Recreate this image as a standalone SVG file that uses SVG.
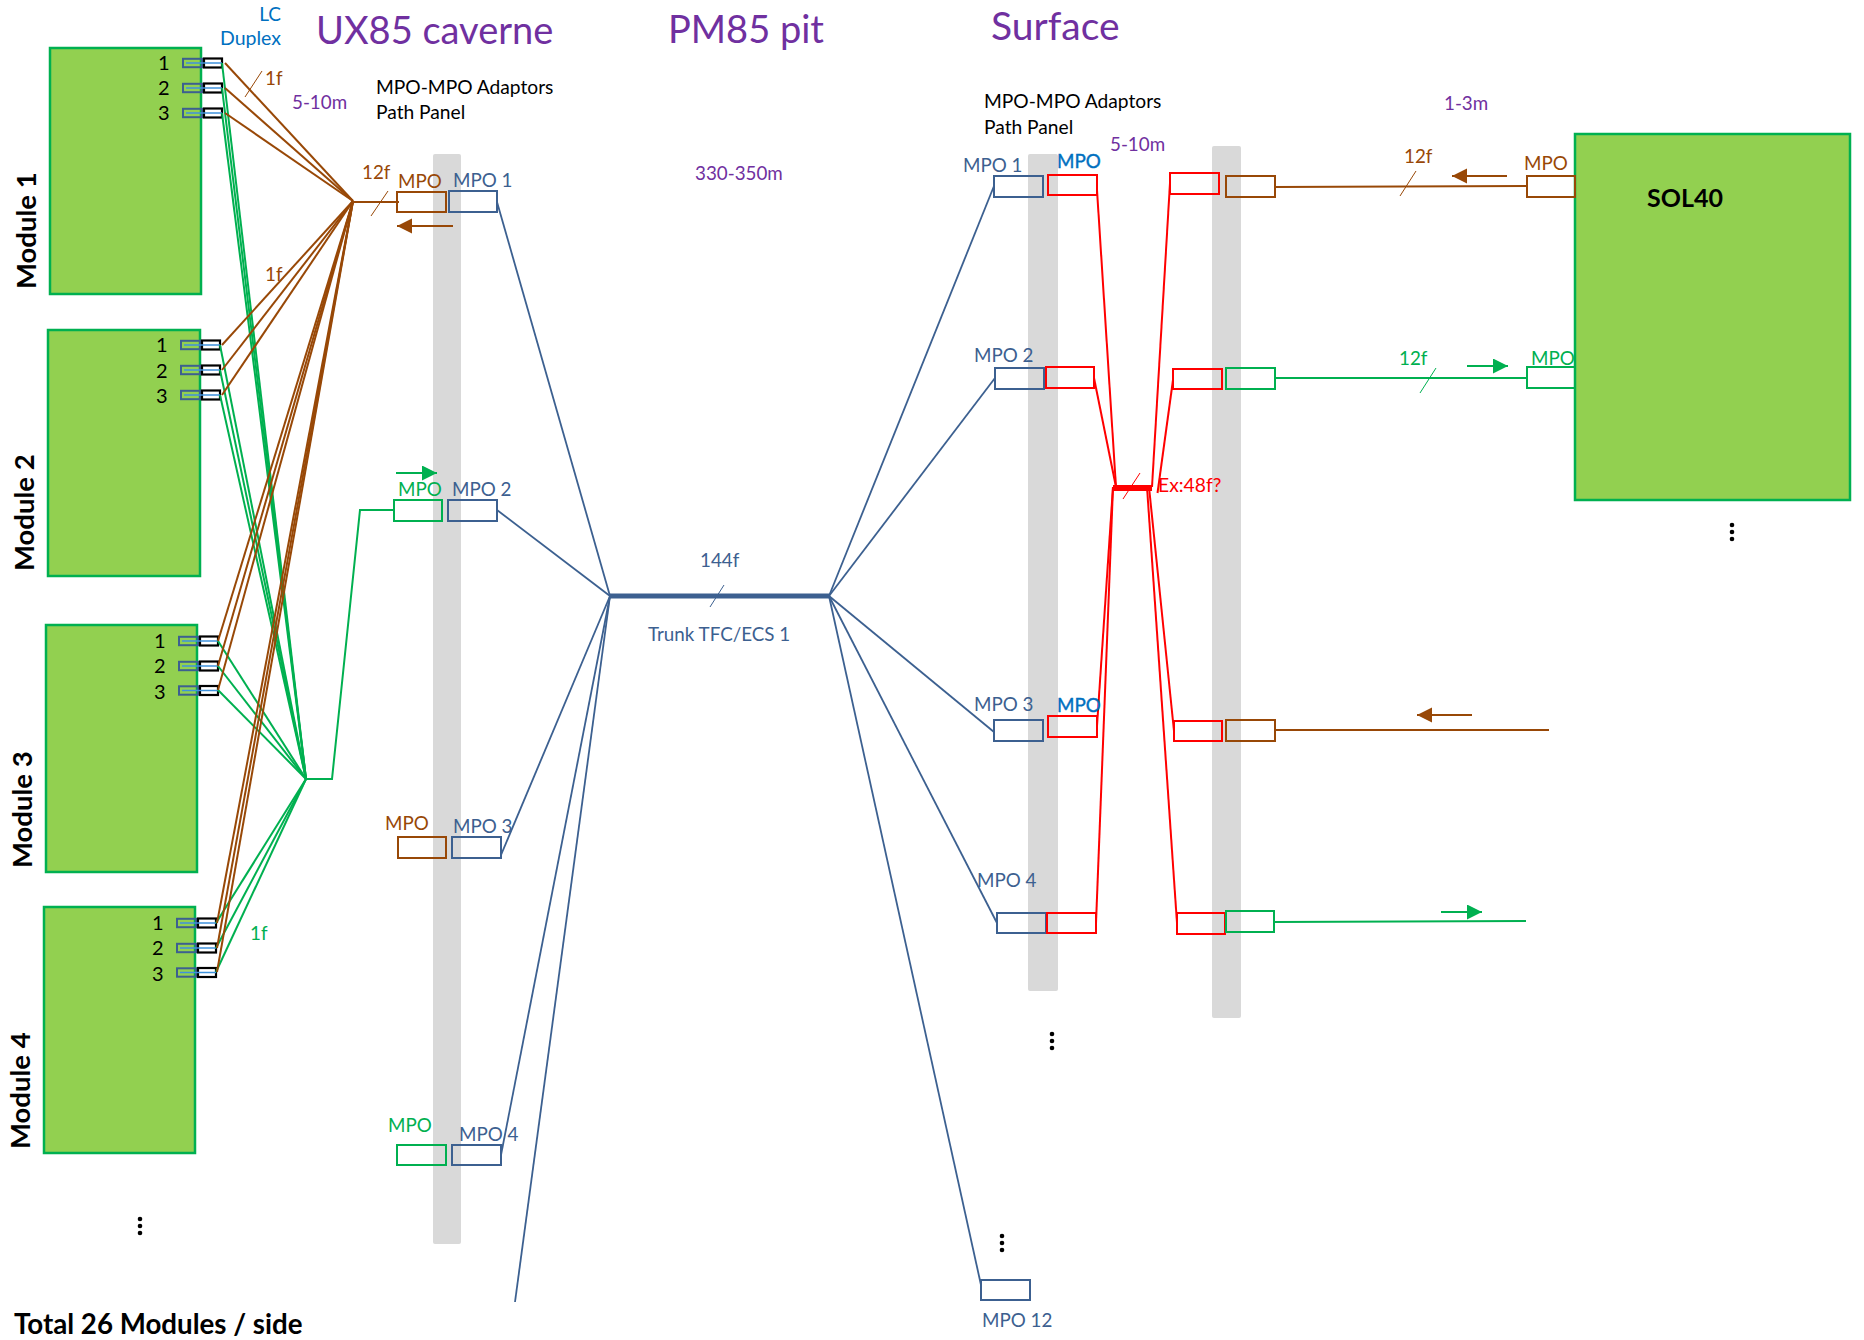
<svg xmlns="http://www.w3.org/2000/svg" width="1864" height="1340" viewBox="0 0 1864 1340">
<style>
text{font-family:Lato,"Liberation Sans",sans-serif;font-size:18.8px}
.bar{fill:#d9d9d9}
.mod{fill:#92d050;stroke:#00b050;stroke-width:2.5}
.b{fill:none;stroke:#3c6090;stroke-width:2}
.br{fill:none;stroke:#984807;stroke-width:2}
.gr{fill:none;stroke:#00b050;stroke-width:2}
.rd{fill:none;stroke:#f00;stroke-width:2}
.lb{stroke:#984807;stroke-width:2}
.lg{stroke:#00b050;stroke-width:2}
.lu{stroke:#3c6090;stroke-width:1.8}
.lr{stroke:#f00;stroke-width:2}
.tb{fill:#3c6090}.tr{fill:#984807}.tg{fill:#00b050}.tp{fill:#7030a0}.tc{fill:#0070c0}.tk{fill:#000}.tx{fill:#f00}
.sb{stroke:#0070c0;stroke-width:.4}
.h1{font-size:38px}
.ml{font-size:27.5px;font-weight:700;fill:#000}
.n{font-size:20px;fill:#000}
.arb{stroke:#984807;stroke-width:2;marker-end:url(#ab)}
.arg{stroke:#00b050;stroke-width:2;marker-end:url(#ag)}
</style>
<defs>
<marker id="ab" markerUnits="userSpaceOnUse" markerWidth="16" markerHeight="16" refX="15" refY="7.5" orient="auto"><path d="M0 0L15 7.5L0 15Z" fill="#984807"/></marker>
<marker id="ag" markerUnits="userSpaceOnUse" markerWidth="16" markerHeight="16" refX="15" refY="7.5" orient="auto"><path d="M0 0L15 7.5L0 15Z" fill="#00b050"/></marker>
<g id="port"><rect x="0" y="-4.2" width="19" height="8.4" fill="none" stroke="#3c6090" stroke-width="2"/><rect x="21" y="-4.5" width="18" height="9" fill="#fff" stroke="#000" stroke-width="2.2"/><line x1="3" y1="0" x2="39" y2="0" stroke="#3f92dc" stroke-width="1.5"/></g>
<g id="dots"><circle cx="0" cy="-7" r="2.3"/><circle cx="0" cy="0" r="2.3"/><circle cx="0" cy="7" r="2.3"/></g>
</defs>
<rect id="bar-ux" class="bar" x="433" y="154" width="28" height="1090" rx="2"/>
<rect id="bar-s1" class="bar" x="1028" y="154" width="30" height="837" rx="2"/>
<rect id="bar-s2" class="bar" x="1212" y="146" width="29" height="872" rx="2"/>
<g id="module-1"><rect class="mod" x="50" y="48" width="151" height="246"/><text class="ml" transform="translate(36,289) rotate(-90)">Module 1</text><text class="n" x="158" y="70">1</text><text class="n" x="158" y="95">2</text><text class="n" x="158" y="120">3</text><use href="#port" x="183" y="63"/><use href="#port" x="183" y="88"/><use href="#port" x="183" y="113"/></g>
<g id="module-2"><rect class="mod" x="48" y="330" width="152" height="246"/><text class="ml" transform="translate(34,571) rotate(-90)">Module 2</text><text class="n" x="156" y="352">1</text><text class="n" x="156" y="378">2</text><text class="n" x="156" y="403">3</text><use href="#port" x="181" y="345"/><use href="#port" x="181" y="370"/><use href="#port" x="181" y="395"/></g>
<g id="module-3"><rect class="mod" x="46" y="625" width="151" height="247"/><text class="ml" transform="translate(32,868) rotate(-90)">Module 3</text><text class="n" x="154" y="648">1</text><text class="n" x="154" y="673">2</text><text class="n" x="154" y="699">3</text><use href="#port" x="179" y="641"/><use href="#port" x="179" y="666"/><use href="#port" x="179" y="690.5"/></g>
<g id="module-4"><rect class="mod" x="44" y="907" width="151" height="246"/><text class="ml" transform="translate(30,1149) rotate(-90)">Module 4</text><text class="n" x="152" y="930">1</text><text class="n" x="152" y="955">2</text><text class="n" x="152" y="981">3</text><use href="#port" x="177" y="923"/><use href="#port" x="177" y="948"/><use href="#port" x="177" y="972.5"/></g>
<g id="sol40"><rect class="mod" x="1575" y="134" width="275" height="366"/><text x="1647" y="207" style="font-size:25px;font-weight:700" class="tk">SOL40</text></g>
<g id="connectors">
<g class="lg"><line x1="222" y1="63" x2="306" y2="779"/><line x1="222" y1="88" x2="306" y2="779"/><line x1="222" y1="113" x2="306" y2="779"/><line x1="220" y1="345" x2="306" y2="779"/><line x1="220" y1="370" x2="306" y2="779"/><line x1="220" y1="395" x2="306" y2="779"/><line x1="218" y1="641" x2="306" y2="779"/><line x1="218" y1="666" x2="306" y2="779"/><line x1="218" y1="690" x2="306" y2="779"/><line x1="216" y1="923" x2="306" y2="779"/><line x1="216" y1="948" x2="306" y2="779"/><line x1="216" y1="972" x2="306" y2="779"/></g>
<polyline class="gr" points="306,779 332,779 360,510 394,510"/>
<g class="lb"><line x1="225" y1="63" x2="353" y2="201"/><line x1="225" y1="88" x2="353" y2="201"/><line x1="225" y1="113" x2="353" y2="201"/><line x1="222" y1="370" x2="353" y2="201"/><line x1="222" y1="345" x2="353" y2="201"/><line x1="222" y1="395" x2="353" y2="201"/><line x1="218" y1="641" x2="353" y2="201"/><line x1="218" y1="666" x2="353" y2="201"/><line x1="218" y1="690" x2="353" y2="201"/><line x1="217" y1="923" x2="353" y2="201"/><line x1="217" y1="948" x2="353" y2="201"/><line x1="217" y1="972" x2="353" y2="201"/></g>
<line class="lb" x1="353" y1="202" x2="399" y2="202"/>
<g class="lu"><line x1="497" y1="202" x2="610" y2="596"/><line x1="497" y1="510" x2="610" y2="596"/><line x1="501" y1="855" x2="610" y2="596"/><line x1="501" y1="1155" x2="610" y2="596"/><line x1="515" y1="1302" x2="610" y2="596"/><line x1="829" y1="596" x2="994" y2="186"/><line x1="829" y1="596" x2="995" y2="378"/><line x1="829" y1="596" x2="994" y2="732"/><line x1="829" y1="596" x2="997" y2="923"/><line x1="829" y1="596" x2="981" y2="1285"/></g>
<line x1="610" y1="596" x2="829" y2="596" stroke="#3c6090" stroke-width="5"/>
<line class="lu" x1="710" y1="607" x2="724" y2="585" style="stroke-width:1"/>
<g class="lr"><line x1="1097" y1="190" x2="1116" y2="487"/><line x1="1094" y1="378" x2="1116" y2="487"/><line x1="1097" y1="726" x2="1113" y2="487"/><line x1="1096" y1="923" x2="1113" y2="487"/><line x1="1170" y1="183" x2="1152" y2="487"/><line x1="1173" y1="380" x2="1157.5" y2="493"/><line x1="1174" y1="731" x2="1149" y2="487"/><line x1="1177" y1="923" x2="1147" y2="487"/></g>
<line x1="1113" y1="488" x2="1152" y2="488" stroke="#f00" stroke-width="6"/>
<line x1="1140" y1="473" x2="1123" y2="499" stroke="#f00" stroke-width="1"/>
<line class="lb" x1="1275" y1="187" x2="1527" y2="186"/><line class="lg" x1="1275" y1="378" x2="1527" y2="378"/><line class="lb" x1="1275" y1="730" x2="1549" y2="730"/><line class="lg" x1="1274" y1="922" x2="1526" y2="921"/>
<g stroke-width="1"><line x1="262" y1="71" x2="245" y2="97" stroke="#984807"/><line x1="388" y1="191" x2="371" y2="216" stroke="#984807"/><line x1="1416" y1="171" x2="1400" y2="196" stroke="#984807"/><line x1="1436" y1="368" x2="1420" y2="393" stroke="#00b050"/></g>
<line class="arb" x1="453" y1="226" x2="397" y2="226"/><line class="arg" x1="396" y1="473" x2="437" y2="473"/><line class="arb" x1="1507" y1="176" x2="1452" y2="176"/><line class="arg" x1="1467" y1="366" x2="1508" y2="366"/><line class="arb" x1="1472" y1="715" x2="1417" y2="715"/><line class="arg" x1="1441" y1="912" x2="1482" y2="912"/>
</g>
<g id="mpo-ux">
<rect class="br" x="397" y="192" width="49" height="20"/><rect class="b" x="449" y="191" width="48" height="21"/>
<rect class="gr" x="394" y="500" width="48" height="21"/><rect class="b" x="448" y="500" width="49" height="21"/>
<rect class="br" x="398" y="837" width="48" height="21"/><rect class="b" x="452" y="837" width="49" height="21"/>
<rect class="gr" x="397" y="1145" width="49" height="20"/><rect class="b" x="452" y="1145" width="49" height="20"/>
</g>
<g id="mpo-surface">
<rect class="b" x="994" y="176" width="49" height="21"/><rect class="rd" x="1048" y="175" width="49" height="20"/><rect class="rd" x="1170" y="173" width="49" height="21"/><rect class="br" x="1226" y="176" width="49" height="21"/>
<rect class="b" x="995" y="368" width="49" height="21"/><rect class="rd" x="1046" y="367" width="48" height="21"/><rect class="rd" x="1173" y="369" width="49" height="20"/><rect class="gr" x="1226" y="368" width="49" height="21"/>
<rect class="b" x="994" y="720" width="49" height="21"/><rect class="rd" x="1048" y="716" width="49" height="21"/><rect class="rd" x="1174" y="721" width="48" height="20"/><rect class="br" x="1226" y="720" width="49" height="21"/>
<rect class="b" x="997" y="913" width="49" height="20"/><rect class="rd" x="1047" y="913" width="49" height="20"/><rect class="rd" x="1177" y="913" width="48" height="21"/><rect class="gr" x="1226" y="911" width="48" height="21"/>
<rect class="b" x="981" y="1280" width="49" height="20"/>
<rect class="br" x="1527" y="176" width="48" height="21"/><rect class="gr" x="1527" y="367" width="48" height="21"/>
</g>
<g id="labels">
<text class="tc" x="281" y="21" text-anchor="end" style="font-size:19px">LC</text><text class="tc" x="281" y="45" text-anchor="end" style="font-size:19.5px">Duplex</text>
<text class="tp h1" x="316" y="44">UX85 caverne</text><text class="tp h1" x="668" y="43">PM85 pit</text><text class="tp h1" x="991" y="40" style="font-size:39px">Surface</text>
<text class="tp" x="292" y="109">5-10m</text><text class="tk" x="376" y="94" style="font-size:19.2px">MPO-MPO Adaptors</text><text class="tk" x="376" y="119" style="font-size:19.2px">Path Panel</text>
<text class="tr" x="362" y="179">12f</text><text class="tr" x="398" y="188">MPO</text><text class="tb" x="453" y="187">MPO 1</text>
<text class="tr" x="265" y="85">1f</text><text class="tr" x="265" y="281">1f</text><text class="tg" x="250" y="940">1f</text>
<text class="tp" x="695" y="180">330-350m</text><text class="tb" x="700" y="567">144f</text><text class="tb" x="648" y="641">Trunk TFC/ECS 1</text>
<text class="tg" x="398" y="496">MPO</text><text class="tb" x="452" y="496">MPO 2</text>
<text class="tr" x="385" y="830">MPO</text><text class="tb" x="453" y="833">MPO 3</text>
<text class="tg" x="388" y="1132">MPO</text><text class="tb" x="459" y="1141">MPO 4</text>
<text class="tk" x="984" y="108" style="font-size:19.2px">MPO-MPO Adaptors</text><text class="tk" x="984" y="134" style="font-size:19.2px">Path Panel</text>
<text class="tp" x="1110" y="151">5-10m</text><text class="tb" x="963" y="172">MPO 1</text><text class="tc sb" x="1057" y="168">MPO</text>
<text class="tb" x="974" y="362">MPO 2</text><text class="tb" x="974" y="711">MPO 3</text><text class="tc sb" x="1057" y="712">MPO</text><text class="tb" x="977" y="887">MPO 4</text>
<text class="tx" x="1158" y="492" style="font-size:19.3px">Ex:48f?</text><text class="tp" x="1444" y="110">1-3m</text>
<text class="tr" x="1404" y="163">12f</text><text class="tr" x="1524" y="170">MPO</text><text class="tg" x="1399" y="365">12f</text><text class="tg" x="1531" y="365">MPO</text>
<text class="tb" x="982" y="1327">MPO 12</text>
<text class="tk" x="14" y="1334" style="font-size:27.7px;font-weight:700">Total 26 Modules / side</text>
</g>
<use href="#dots" x="140" y="1226"/><use href="#dots" x="1052" y="1041"/><use href="#dots" x="1002" y="1243"/><use href="#dots" x="1732" y="532"/>
</svg>
